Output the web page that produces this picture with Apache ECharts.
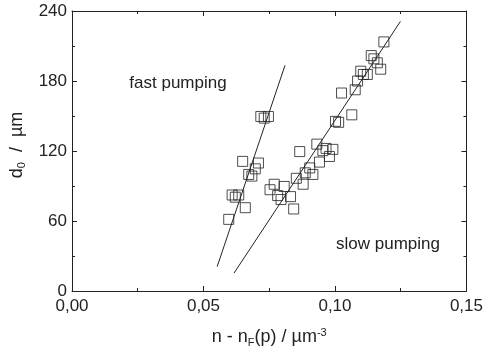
<!DOCTYPE html>
<html>
<head>
<meta charset="utf-8">
<script src="https://cdn.jsdelivr.net/npm/echarts@6/dist/echarts.min.js"></script>
<style>
  html, body { margin: 0; padding: 0; background: #fff; }
  #chart { width: 486px; height: 353px; }
</style>
</head>
<body>
<div id="chart"></div>
<script>
// fast pumping measurements [n - nF(p), d0]
const fastX = [0.0596, 0.0609, 0.0621, 0.0634, 0.0659, 0.0649, 0.0672, 0.0684, 0.0697, 0.0709, 0.0718, 0.0731, 0.0747];
const fastY = [61.4, 82.3, 80.4, 82.3, 71.4, 111.1, 99.9, 98.5, 104.7, 109.7, 149.6, 148.2, 149.6];

// slow pumping measurements
const slowX = [0.0753, 0.0769, 0.0782, 0.0795, 0.0807, 0.0831, 0.0843, 0.0866, 0.0853, 0.0879, 0.0887, 0.0904,
  0.0916, 0.0931, 0.0941, 0.0954, 0.0966, 0.0979, 0.0992, 0.1002, 0.1014, 0.1025, 0.1064, 0.1077, 0.1086,
  0.1098, 0.1108, 0.1123, 0.1138, 0.1148, 0.1161, 0.1174, 0.1186];
const slowY = [86.8, 91.5, 81.8, 78.4, 89.6, 80.9, 70.3, 119.5, 96.6, 91.5, 101.3, 105.5,
  99.9, 125.9, 110.5, 120.3, 122.2, 115.3, 121.4, 145.4, 144.6, 169.7, 151.0, 172.5, 180.0,
  188.4, 185.6, 185.6, 201.8, 199.0, 195.6, 190.1, 213.5];

// fitted lines (end points)
const fastFitX = [0.0552, 0.0810];
const fastFitY = [20.9, 193.4];
const slowFitX = [0.0616, 0.1249];
const slowFitY = [15.3, 231.1];

const zip = (xs, ys) => xs.map((x, i) => [x, ys[i]]);

const ink = '#222';
const font = 'Liberation Sans, Arial, sans-serif';

var myChart = echarts.init(document.getElementById('chart'));

const tickStyle = {
  axisLine: { show: true, onZero: false, lineStyle: { color: ink, width: 1 } },
  axisTick: { show: true, inside: true, length: 5, lineStyle: { color: ink } },
  minorTick: { show: true, splitNumber: 2, length: 3, lineStyle: { color: ink } },
  splitLine: { show: false }
};

const squares = {
  type: 'scatter',
  symbol: 'rect',
  symbolSize: 10,
  itemStyle: { color: 'rgba(255,255,255,0)', borderColor: ink, borderWidth: 1 },
  z: 3
};

const fit = {
  type: 'line',
  symbol: 'none',
  lineStyle: { color: ink, width: 1 },
  z: 2
};

myChart.setOption({
  animation: false,
  textStyle: { fontFamily: font },
  grid: { left: 72, right: 16, top: 11, bottom: 55 },
  xAxis: [
    Object.assign({
      type: 'value', min: 0, max: 0.15, interval: 0.05, position: 'bottom',
      axisLabel: { color: ink, fontSize: 17, margin: 7, formatter: v => v.toFixed(2).replace('.', ',') },
      name: '{a|n - n}{sub|F}{a|(p) / µm}{sup|-3}',
      nameLocation: 'middle', nameGap: 36,
      nameTextStyle: {
        rich: {
          a: { fontSize: 18, color: ink, fontFamily: font },
          sub: { fontSize: 11, color: ink, fontFamily: font, padding: [10, 0, 0, 0] },
          sup: { fontSize: 11, color: ink, fontFamily: font, padding: [0, 0, 10, 0] }
        }
      }
    }, tickStyle),
    Object.assign({
      type: 'value', min: 0, max: 0.15, interval: 0.05, position: 'top',
      axisLabel: { show: false }
    }, tickStyle)
  ],
  yAxis: [
    Object.assign({
      type: 'value', min: 0, max: 240, interval: 60, position: 'left',
      axisLabel: { color: ink, fontSize: 17, margin: 5 },
      name: '{a|d}{sub|0}{a|  /  µm}',
      nameLocation: 'middle', nameGap: 40, nameRotate: 90,
      nameTextStyle: {
        padding: [0, 0, 0, 12],
        rich: {
          a: { fontSize: 18, color: ink, fontFamily: font },
          sub: { fontSize: 11, color: ink, fontFamily: font, padding: [10, 0, 0, 0] }
        }
      }
    }, tickStyle),
    Object.assign({
      type: 'value', min: 0, max: 240, interval: 60, position: 'right',
      axisLabel: { show: false }
    }, tickStyle)
  ],
  graphic: [
    { type: 'text', x: 178, y: 83, style: { text: 'fast pumping', fill: ink, font: '17px ' + font, align: 'center', verticalAlign: 'middle' } },
    { type: 'text', x: 388, y: 244, style: { text: 'slow pumping', fill: ink, font: '17px ' + font, align: 'center', verticalAlign: 'middle' } }
  ],
  series: [
    Object.assign({ name: 'fast', data: zip(fastX, fastY) }, squares),
    Object.assign({ name: 'slow', data: zip(slowX, slowY) }, squares),
    Object.assign({ name: 'fast fit', data: zip(fastFitX, fastFitY) }, fit),
    Object.assign({ name: 'slow fit', data: zip(slowFitX, slowFitY) }, fit)
  ]
});
</script>
</body>
</html>
